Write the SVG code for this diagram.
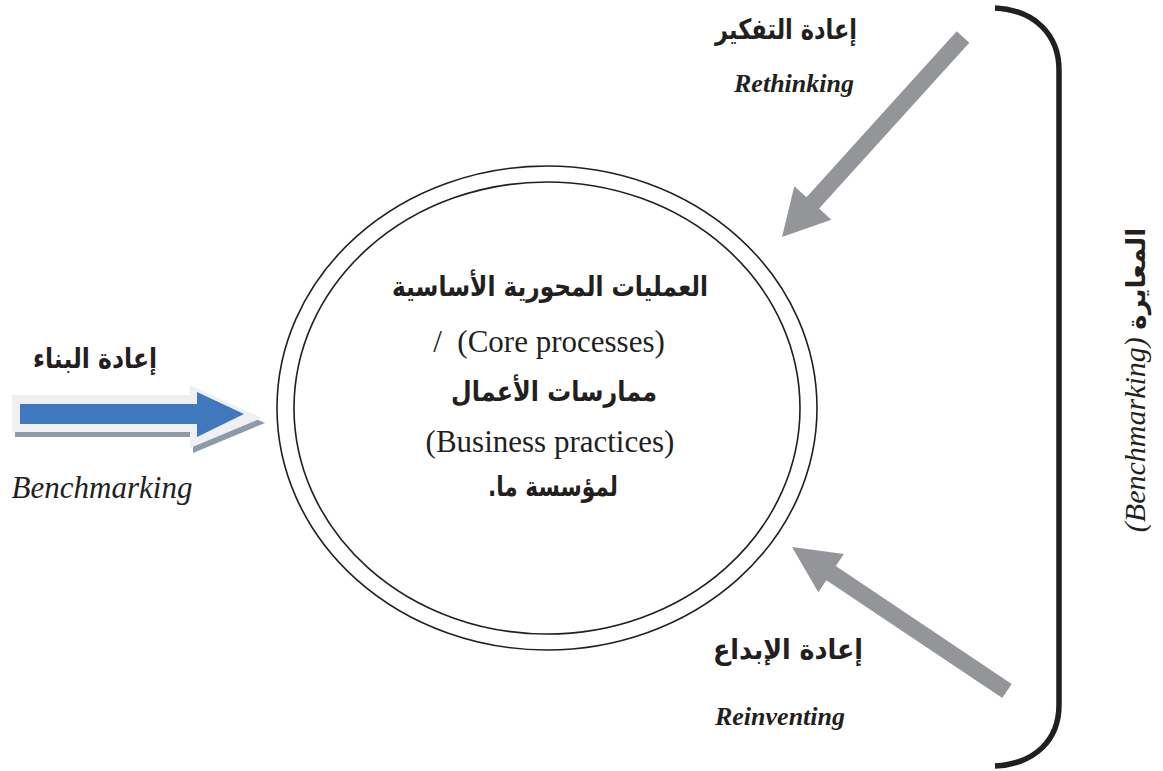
<svg xmlns="http://www.w3.org/2000/svg" width="1163" height="771" viewBox="0 0 1163 771">
<style>
.ar{font-family:"DejaVu Sans",sans-serif;font-weight:bold;fill:#231f20;}
.en{font-family:"Liberation Serif",serif;fill:#231f20;}
.it{font-style:italic;}
.bi{font-style:italic;font-weight:bold;}
.ring{fill:none;stroke:#231f20;stroke-width:1.6;}
.garrow{fill:#939598;}
</style>
<rect width="1163" height="771" fill="#ffffff"/>
<g id="connectors">
  <g id="arrow-rebuild">
    <polygon points="15,400 193,400 193,390 265,423 193,453 193,437 15,437" fill="#8d9aab"/>
    <polygon points="12,395 190,395 190,385 262,418 190,448 190,432 12,432" fill="#eef0f4"/>
    <polygon points="20,404 197,404 197,392 244,414 197,437 197,424 20,424" fill="#3f78bd"/>
  </g>
  <polygon id="arrow-rethinking" class="garrow" points="969.3,42.7 819.1,208.6 831.3,219.7 782,237 794.3,186.2 806.5,197.2 956.7,31.3"/>
  <polygon id="arrow-reinventing" class="garrow" points="1011.7,683.9 835.8,566 843.9,554 792,547 818.3,592.2 826.4,580.2 1002.3,698.1"/>
  <path id="bracket" d="M995,8 C1035,10 1059,35 1059,70 L1059,705 C1059,740 1035,764 995,766" fill="none" stroke="#231f20" stroke-width="5.5"/>
</g>
<g id="node-core">
  <ellipse class="ring" cx="547" cy="408" rx="270" ry="242"/>
  <ellipse class="ring" cx="547" cy="408" rx="253" ry="226"/>
  <text class="ar" x="550" y="296" font-size="28" text-anchor="middle" direction="rtl" textLength="316" lengthAdjust="spacingAndGlyphs">العمليات المحورية الأساسية</text>
  <text class="en" x="549" y="352" font-size="31" text-anchor="middle" xml:space="preserve">/  (Core processes)</text>
  <text class="ar" x="554" y="401" font-size="28" text-anchor="middle" direction="rtl" textLength="206" lengthAdjust="spacingAndGlyphs">ممارسات الأعمال</text>
  <text class="en" x="550" y="452" font-size="31" text-anchor="middle">(Business practices)</text>
  <text class="ar" x="553" y="496" font-size="28" text-anchor="middle" direction="rtl" textLength="130" lengthAdjust="spacingAndGlyphs">لمؤسسة ما.</text>
</g>
<g id="node-rebuild">
  <text class="ar" x="95" y="368" font-size="28" text-anchor="middle" direction="rtl" textLength="124" lengthAdjust="spacingAndGlyphs">إعادة البناء</text>
  <text class="en it" x="102" y="498" font-size="31" text-anchor="middle">Benchmarking</text>
</g>
<g id="node-rethinking">
  <text class="ar" x="786" y="39" font-size="28" text-anchor="middle" direction="rtl" textLength="142" lengthAdjust="spacingAndGlyphs">إعادة التفكير</text>
  <text class="en bi" x="794" y="92" font-size="26" text-anchor="middle">Rethinking</text>
</g>
<g id="node-reinventing">
  <text class="ar" x="788" y="659" font-size="28" text-anchor="middle" direction="rtl" textLength="150" lengthAdjust="spacingAndGlyphs">إعادة الإبداع</text>
  <text class="en bi" x="780" y="725" font-size="26" text-anchor="middle">Reinventing</text>
</g>
<g id="node-benchmarking">
  <text transform="translate(1145,380) rotate(-90)" x="0" y="0" font-size="30" text-anchor="middle"><tspan class="en it">(Benchmarking) </tspan><tspan class="ar" font-size="26">المعايرة</tspan></text>
</g>
</svg>
